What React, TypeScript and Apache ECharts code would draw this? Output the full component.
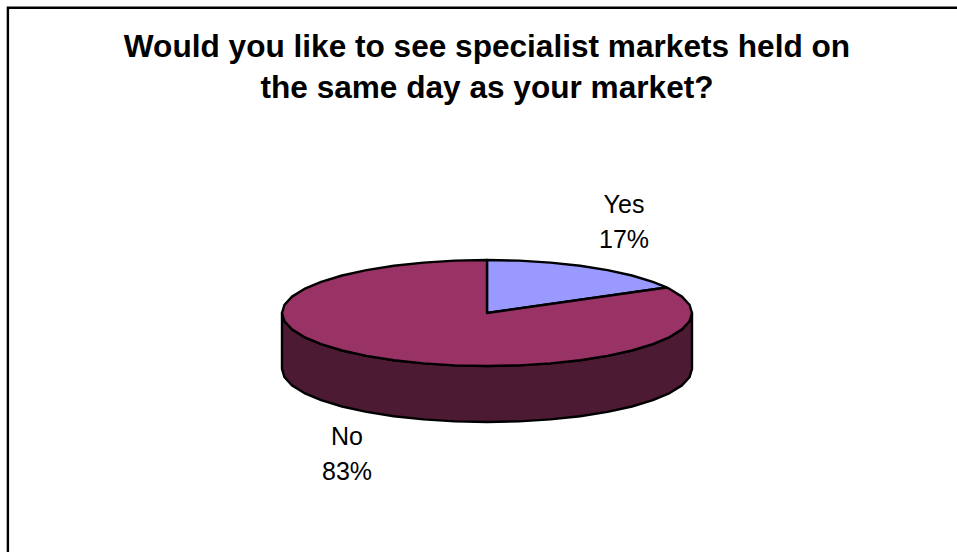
import React, { useEffect, useRef } from "react";
import * as echarts from "echarts";

const titleLines = ["Would you like to see specialist markets held on", "the same day as your market?"];
const categories = ["Yes", "No"];
const shares = [17, 83];
const topColors = ["#9999FF", "#993366"];
const sideColors = ["#4D4D80", "#4D1A33"];

const FONT = "'Liberation Sans', Arial, sans-serif";
const PIE = { cx: 487, cy: 313, rx: 205, ry: 53, depth: 56 };
const LABEL_CENTERS = [
  { x: 624, y: 221 },
  { x: 347, y: 453 },
];
const STEP = 9;

function pt(deg: number, dy = 0) {
  const t = (deg * Math.PI) / 180;
  return [PIE.cx + PIE.rx * Math.sin(t), PIE.cy - PIE.ry * Math.cos(t) + dy];
}
function arcPts(a0: number, a1: number, dy = 0) {
  const out: number[][] = [pt(a0, dy)];
  const first = Math.ceil(a0 / STEP + 1e-6) * STEP;
  for (let a = first; a < a1; a += STEP) out.push(pt(a, dy));
  out.push(pt(a1, dy));
  return out;
}
function toD(points: number[][]) {
  return points.map((p, i) => `${i ? "L" : "M"}${p[0].toFixed(2)} ${p[1].toFixed(2)}`).join("");
}

function renderItem(params: any, api: any) {
  const i = params.dataIndex;
  const total = shares.reduce((a, b) => a + b, 0);
  const before = shares.slice(0, i).reduce((a, b) => a + b, 0);
  const a0 = (before / total) * 360;
  const a1 = ((before + api.value(1)) / total) * 360;
  const children: any[] = [];
  const s0 = Math.max(a0, 90);
  const s1 = Math.min(a1, 270);
  if (s1 > s0) {
    const d =
      toD([...arcPts(s0, s1), ...arcPts(s0, s1, PIE.depth).reverse()]) + "Z";
    children.push({
      type: "path",
      shape: { pathData: d },
      style: { fill: sideColors[i], stroke: "#000", lineWidth: 2.4, lineJoin: "round" },
    });
  }
  const d = toD([[PIE.cx, PIE.cy], ...arcPts(a0, a1)]) + "Z";
  children.push({
    type: "path",
    shape: { pathData: d },
    style: { fill: topColors[i], stroke: "#000", lineWidth: 2.4, lineJoin: "round" },
  });
  children.push({
    type: "text",
    x: LABEL_CENTERS[i].x,
    y: LABEL_CENTERS[i].y,
    style: {
      text: `${categories[i]}\n${api.value(1)}%`,
      font: `25px ${FONT}`,
      fill: "#000",
      align: "center",
      verticalAlign: "middle",
      lineHeight: 35,
    },
  });
  return { type: "group", children };
}

export default function App() {
  const ref = useRef<HTMLDivElement>(null);
  useEffect(() => {
    const chart = echarts.init(ref.current!, null, { renderer: "svg" });
    chart.setOption({
      animation: false,
      backgroundColor: "#fff",
      title: {
        text: titleLines.join("\n"),
        left: 487,
        top: 25.5,
        padding: 0,
        textAlign: "center",
        textStyle: { fontFamily: FONT, fontSize: 31.6, fontWeight: "bold", color: "#000", lineHeight: 41 },
      },
      graphic: [
        {
          type: "polyline",
          shape: { points: [[7.9, 552], [7.9, 7.7], [957, 7.7]] },
          style: { fill: "none", stroke: "#000", lineWidth: 2.4 },
        },
      ],
      series: [
        {
          type: "custom",
          coordinateSystem: "none",
          renderItem,
          data: categories.map((c, i) => [c, shares[i]]),
          encode: { value: 1 },
        },
      ],
    });
    return () => chart.dispose();
  }, []);
  return <div ref={ref} style={{ position: "fixed", left: 0, top: 0, width: 957, height: 552 }} />;
}
